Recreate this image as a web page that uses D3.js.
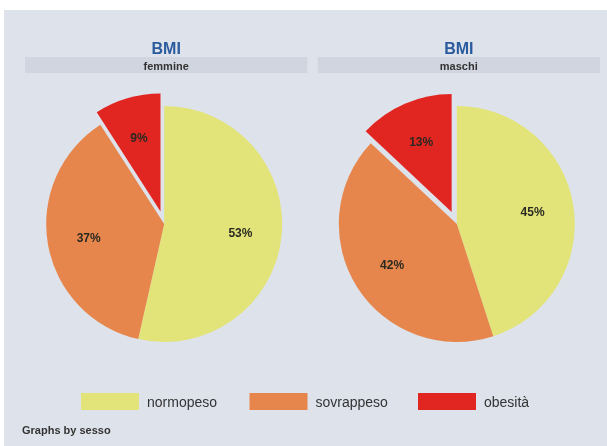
<!DOCTYPE html>
<html>
<head>
<meta charset="utf-8">
<script src="https://cdn.jsdelivr.net/npm/d3@7"></script>
<style>
  html, body { margin: 0; padding: 0; background: #ffffff; }
  svg { display: block; filter: blur(0.6px); }
  text { font-family: "Liberation Sans", Arial, sans-serif; }
</style>
</head>
<body>
<svg id="chart" width="607" height="446"></svg>
<script>
// BMI categories and shares (%) by sex
const categories = ["normopeso", "sovrappeso", "obesità"];
const groups = ["femmine", "maschi"];
const femmine = [53, 37, 9];
const maschi = [45, 42, 13];
const seriesValues = [femmine, maschi];
const colors = ["#e2e47a", "#e7864c", "#e12622"];
const explodedCategory = "obesità";

const W = 607, H = 446;
const svg = d3.select("#chart");

// background panel
svg.append("rect").attr("x", 4).attr("y", 10).attr("width", W - 4).attr("height", H - 10)
  .attr("fill", "#dee2eb");

// one column per group
const x = d3.scaleBand().domain(groups).range([25, 600]).paddingInner(0.035);
const color = d3.scaleOrdinal().domain(categories).range(colors);

const radius = 118;
const explode = 13;
const pie = d3.pie().sort(null).value(d => d.value).startAngle(0).endAngle(2 * Math.PI);
const arc = d3.arc().innerRadius(0).outerRadius(radius);
const labelArc = d3.arc().innerRadius(radius * 0.65).outerRadius(radius * 0.65);

groups.forEach((g, gi) => {
  const x0 = x(g), bw = x.bandwidth();
  const cx = x0 + bw / 2 - 2, cy = 224;

  // title and subtitle band
  svg.append("text").attr("x", x0 + bw / 2).attr("y", 54)
    .attr("text-anchor", "middle").attr("font-size", 16).attr("font-weight", "bold")
    .attr("fill", "#2a5b9c").text("BMI");
  svg.append("rect").attr("x", x0).attr("y", 57).attr("width", bw).attr("height", 16)
    .attr("fill", "#d0d5df");
  svg.append("text").attr("x", x0 + bw / 2).attr("y", 69.5)
    .attr("text-anchor", "middle").attr("font-size", 11).attr("font-weight", "bold")
    .attr("fill", "#333").text(g);

  const data = categories.map((c, i) => ({ cat: c, value: seriesValues[gi][i] }));
  const arcs = pie(data);
  const gp = svg.append("g").attr("transform", `translate(${cx},${cy})`);

  const slice = gp.selectAll("g.slice").data(arcs).join("g").attr("class", "slice")
    .attr("transform", d => {
      if (d.data.cat !== explodedCategory) return null;
      const a = (d.startAngle + d.endAngle) / 2;
      return `translate(${Math.sin(a) * explode},${-Math.cos(a) * explode})`;
    });
  slice.append("path").attr("d", arc).attr("fill", d => color(d.data.cat));
  slice.append("text")
    .attr("transform", d => `translate(${labelArc.centroid(d)})`)
    .attr("text-anchor", "middle").attr("dy", "0.35em")
    .attr("font-size", 12).attr("font-weight", "bold").attr("fill", "#2a2a22")
    .text(d => d.data.value + "%");
});

// legend
const legendX = d3.scalePoint().domain(categories).range([81, 418]);
const lg = svg.append("g");
categories.forEach(c => {
  const lx = legendX(c);
  lg.append("rect").attr("x", lx).attr("y", 393).attr("width", 58).attr("height", 17)
    .attr("fill", color(c));
  lg.append("text").attr("x", lx + 66).attr("y", 407)
    .attr("font-size", 14).attr("fill", "#333").text(c);
});

svg.append("text").attr("x", 22).attr("y", 434)
  .attr("font-size", 11).attr("font-weight", "bold").attr("fill", "#333").text("Graphs by sesso");
</script>
</body>
</html>
